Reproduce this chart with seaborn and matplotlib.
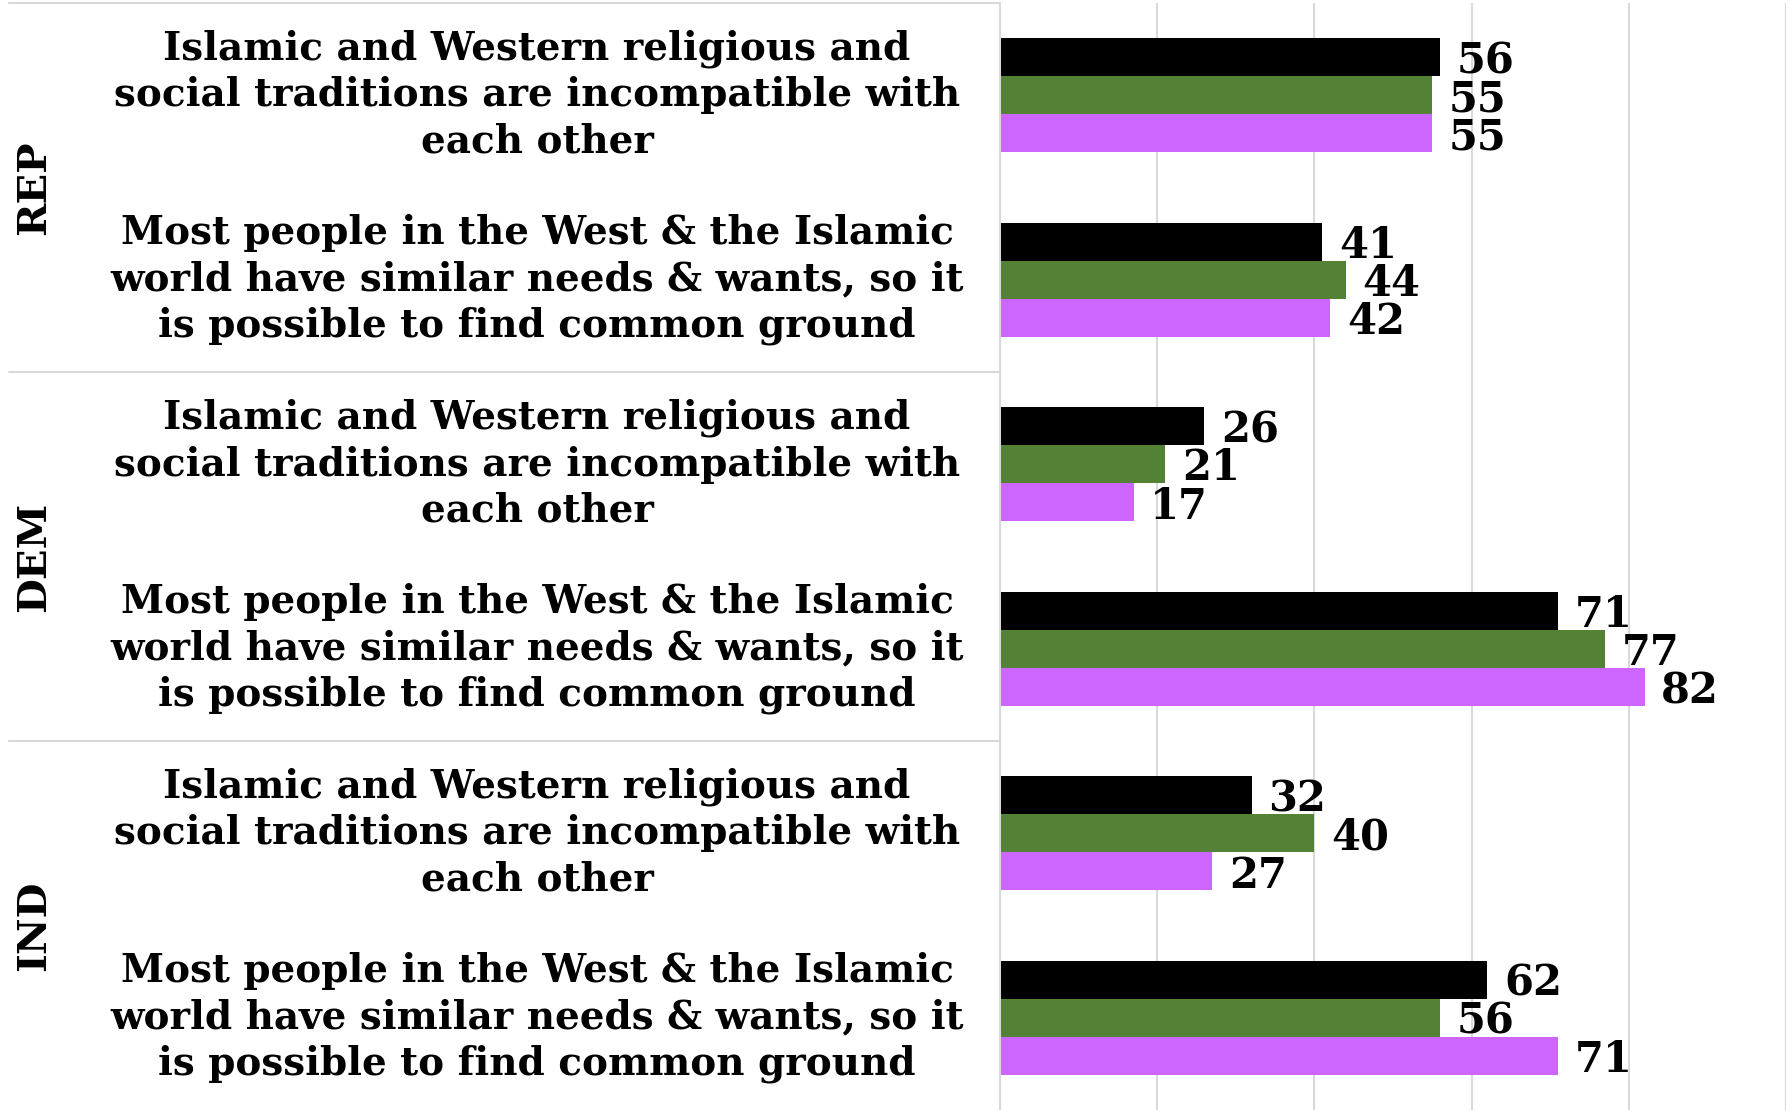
import matplotlib
matplotlib.use("Agg")

import matplotlib.pyplot as plt
import matplotlib.transforms as mtransforms
import pandas as pd
import seaborn as sns

# ── Data ──
groups = ["REP", "DEM", "IND"]
statements = [
    "Islamic and Western religious and\nsocial traditions are incompatible with\neach other",
    "Most people in the West & the Islamic\nworld have similar needs & wants, so it\nis possible to find common ground",
]
series_names = ["Series 1", "Series 2", "Series 3"]
series_black = [56, 41, 26, 71, 32, 62]
series_green = [55, 44, 21, 77, 40, 56]
series_purple = [55, 42, 17, 82, 27, 71]
colors = ["#000000", "#538135", "#CC66FF"]

# category keys (one per group x statement)
cat_keys = [f"{g}|{i}" for g in groups for i in range(len(statements))]
cat_text = [statements[i] for g in groups for i in range(len(statements))]

rows = []
for name, vals in zip(series_names, [series_black, series_green, series_purple]):
    for key, v in zip(cat_keys, vals):
        rows.append({"category": key, "series": name, "value": v})
df = pd.DataFrame(rows)

# ── Plot ──
sns.set_theme(style="white")
plt.rcParams["font.family"] = ["DejaVu Serif"]
plt.rcParams["text.color"] = "black"

W, H = 1792, 1110
fig = plt.figure(figsize=(W / 100, H / 100), dpi=100)
ax_left, ax_right = 1000, 1786
ax = fig.add_axes([ax_left / W, 0, (ax_right - ax_left) / W, 1 - 3 / H])

sns.barplot(data=df, y="category", x="value", hue="series", order=cat_keys,
            hue_order=series_names, palette=colors, orient="h", width=0.62,
            dodge=True, ax=ax, legend=False, edgecolor="none", saturation=1)

ax.set_xlim(0, 100)
ax.set_ylim(len(cat_keys) - 0.5, -0.5)
ax.set_xticks(range(0, 101, 20))
ax.set_xticklabels([])
ax.set_yticks([])
ax.set_xlabel("")
ax.set_ylabel("")
ax.xaxis.grid(True, color="#d9d9d9", linewidth=1.5)
ax.set_axisbelow(True)
for side in ["top", "right", "bottom"]:
    ax.spines[side].set_visible(False)
ax.spines["left"].set_color("#d9d9d9")
ax.spines["left"].set_linewidth(1.5)

# value labels (nudged down a little, like the original)
for container in ax.containers:
    anns = ax.bar_label(container, fmt="%d", padding=12, fontsize=30,
                        fontweight="bold", color="black")
    for a in anns:
        a.xyann = (a.xyann[0], -3)

# statement labels and group labels
trans = mtransforms.blended_transform_factory(ax.transAxes, ax.transData)
label_x = (537 - ax_left) / (ax_right - ax_left)
for i, txt in enumerate(cat_text):
    ax.text(label_x, i, txt, transform=trans, ha="center", va="center",
            multialignment="center", fontsize=28, fontweight="bold",
            linespacing=1.27, color="black", clip_on=False)

grp_x = (34 - ax_left) / (ax_right - ax_left)
sep_x0 = (9 - ax_left) / (ax_right - ax_left)
for gi, g in enumerate(groups):
    center = gi * len(statements) + (len(statements) - 1) / 2
    ax.text(grp_x, center, g, transform=trans, ha="center", va="center",
            rotation=90, fontsize=29, fontweight="bold", color="black",
            clip_on=False)
    ax.plot([sep_x0, 0], [gi * len(statements) - 0.5] * 2, transform=trans,
            color="#d9d9d9", linewidth=1.5, clip_on=False)

fig.savefig("out.png", dpi=100)
